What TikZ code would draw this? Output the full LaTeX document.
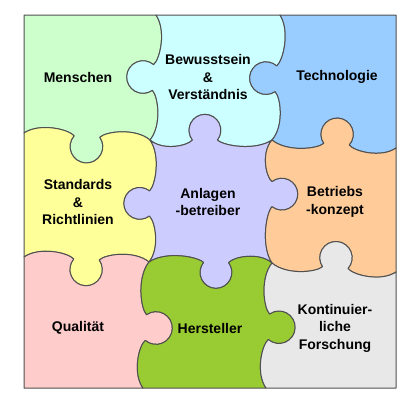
\documentclass[tikz,border=0pt]{standalone}
\usepackage{fontspec}
\setmainfont{Liberation Sans}
\definecolor{cMen}{HTML}{CCFFCC}
\definecolor{cBew}{HTML}{CCFFFF}
\definecolor{cTec}{HTML}{99CCFF}
\definecolor{cSta}{HTML}{FFFF99}
\definecolor{cAnl}{HTML}{CCCCFF}
\definecolor{cBet}{HTML}{FFCC99}
\definecolor{cQua}{HTML}{FFCCCC}
\definecolor{cHer}{HTML}{99CC33}
\definecolor{cKon}{HTML}{E8E8E8}
\definecolor{cLine}{HTML}{505050}
% edge: name, x0, y0, x1, y1, side, knob position
\newcommand\mkedge[7]{%
  \pgfmathsetmacro\edx{(#4)-(#2)}%
  \pgfmathsetmacro\edy{(#5)-(#3)}%
  \pgfmathsetmacro\nA{(#7)-0.1024}%
  \pgfmathsetmacro\nB{(#7)+0.1024}%
  \foreach \pK/\pT/\pU in {0/0/0, 1/{\nA*0.30}/-0.09, 2/{\nA*0.88}/-0.05, 3/{\nA}/0,
     4/{#7-0.1330}/0.0392, 5/{#7-0.1386}/0.0923, 6/{#7-0.1168}/0.1370,
     7/{#7-0.0950}/0.1817, 8/{#7-0.0497}/0.21, 9/{#7}/0.21,
     10/{#7+0.0497}/0.21, 11/{#7+0.0950}/0.1817, 12/{#7+0.1168}/0.1370,
     13/{#7+0.1386}/0.0923, 14/{#7+0.1330}/0.0392, 15/{\nB}/0,
     16/{\nB+(1-\nB)*0.12}/-0.05, 17/{\nB+(1-\nB)*0.70}/-0.09, 18/1/0}{%
    \pgfmathsetmacro\tv{\pT}%
    \coordinate (#1-\pK) at ({(#2)+\tv*\edx-(#6)*(\pU)*\edy},{(#3)+\tv*\edy+(#6)*(\pU)*\edx});%
  }%
}
\newcommand\edgefwd[1]{.. controls (#1-1) and (#1-2) .. (#1-3) .. controls (#1-4) and (#1-5) .. (#1-6) .. controls (#1-7) and (#1-8) .. (#1-9) .. controls (#1-10) and (#1-11) .. (#1-12) .. controls (#1-13) and (#1-14) .. (#1-15) .. controls (#1-16) and (#1-17) .. (#1-18)}
\newcommand\edgerev[1]{.. controls (#1-17) and (#1-16) .. (#1-15) .. controls (#1-14) and (#1-13) .. (#1-12) .. controls (#1-11) and (#1-10) .. (#1-9) .. controls (#1-8) and (#1-7) .. (#1-6) .. controls (#1-5) and (#1-4) .. (#1-3) .. controls (#1-2) and (#1-1) .. (#1-0)}
\begin{document}
\begin{tikzpicture}[x=1pt,y=-1pt,
  piece/.style={draw=cLine, line width=1pt, line join=round},
  lbl/.style={font=\fontsize{14}{17.5}\selectfont\bfseries, align=center, text=black, inner sep=0pt}]
\useasboundingbox (0,0) rectangle (408,400);
% horizontal edges
\mkedge{ha}{24}{133}{150}{140}{1}{0.5}
\mkedge{hb}{150}{140}{272}{140}{-1}{0.45}
\mkedge{hc}{272}{140}{396}{148}{-1}{0.52}
\mkedge{hd}{24}{257}{149}{262}{1}{0.5}
\mkedge{he}{149}{262}{272}{263}{1}{0.545}
\mkedge{hf}{272}{263}{396}{272}{-1}{0.51}
% vertical edges
\mkedge{va}{156}{15}{150}{140}{1}{0.5}
\mkedge{vb}{150}{140}{149}{262}{1}{0.52}
\mkedge{vc}{149}{262}{143}{388}{-1}{0.52}
\mkedge{vd}{280}{15}{272}{140}{1}{0.51}
\mkedge{ve}{272}{140}{272}{263}{-1}{0.44}
\mkedge{vf}{272}{263}{266}{388}{-1}{0.51}
% frame corners
\coordinate (ctl) at (24,15);
\coordinate (ctr) at (396,15);
\coordinate (cbr) at (396,388);
\coordinate (cbl) at (24,388);
% pieces
\filldraw[piece, fill=cMen] (ctl) -- (va-0) \edgefwd{va} \edgerev{ha} -- cycle;
\filldraw[piece, fill=cBew] (va-0) -- (vd-0) \edgefwd{vd} \edgerev{hb} \edgerev{va} -- cycle;
\filldraw[piece, fill=cTec] (vd-0) -- (ctr) -- (hc-18) \edgerev{hc} \edgerev{vd} -- cycle;
\filldraw[piece, fill=cSta] (ha-0) \edgefwd{ha} \edgefwd{vb} \edgerev{hd} -- cycle;
\filldraw[piece, fill=cAnl] (hb-0) \edgefwd{hb} \edgefwd{ve} \edgerev{he} \edgerev{vb} -- cycle;
\filldraw[piece, fill=cBet] (hc-0) \edgefwd{hc} -- (hf-18) \edgerev{hf} \edgerev{ve} -- cycle;
\filldraw[piece, fill=cQua] (hd-0) \edgefwd{hd} \edgefwd{vc} -- (cbl) -- cycle;
\filldraw[piece, fill=cHer] (he-0) \edgefwd{he} \edgefwd{vf} -- (vc-18) \edgerev{vc} -- cycle;
\filldraw[piece, fill=cKon] (hf-0) \edgefwd{hf} -- (cbr) -- (vf-18) \edgerev{vf} -- cycle;
% labels
\node[lbl] (tMen) at (78,77) {Menschen};
\node[lbl] (tBew) at (208,77) {Bewusstsein\\\&\\Verständnis};
\node[lbl] (tTec) at (337,77) {Technologie};
\node[lbl] (tSta) at (78,202) {Standards\\\&\\Richtlinien};
\node[lbl] (tAnl) at (208,202) {Anlagen\\-betreiber};
\node[lbl] (tBet) at (335,202) {Betriebs\\-konzept};
\node[lbl] (tQua) at (78,328) {Qualität};
\node[lbl] (tHer) at (210,328) {Hersteller};
\node[lbl] (tKon) at (335,328) {Kontinuier-\\liche\\Forschung};
\end{tikzpicture}
\end{document}
